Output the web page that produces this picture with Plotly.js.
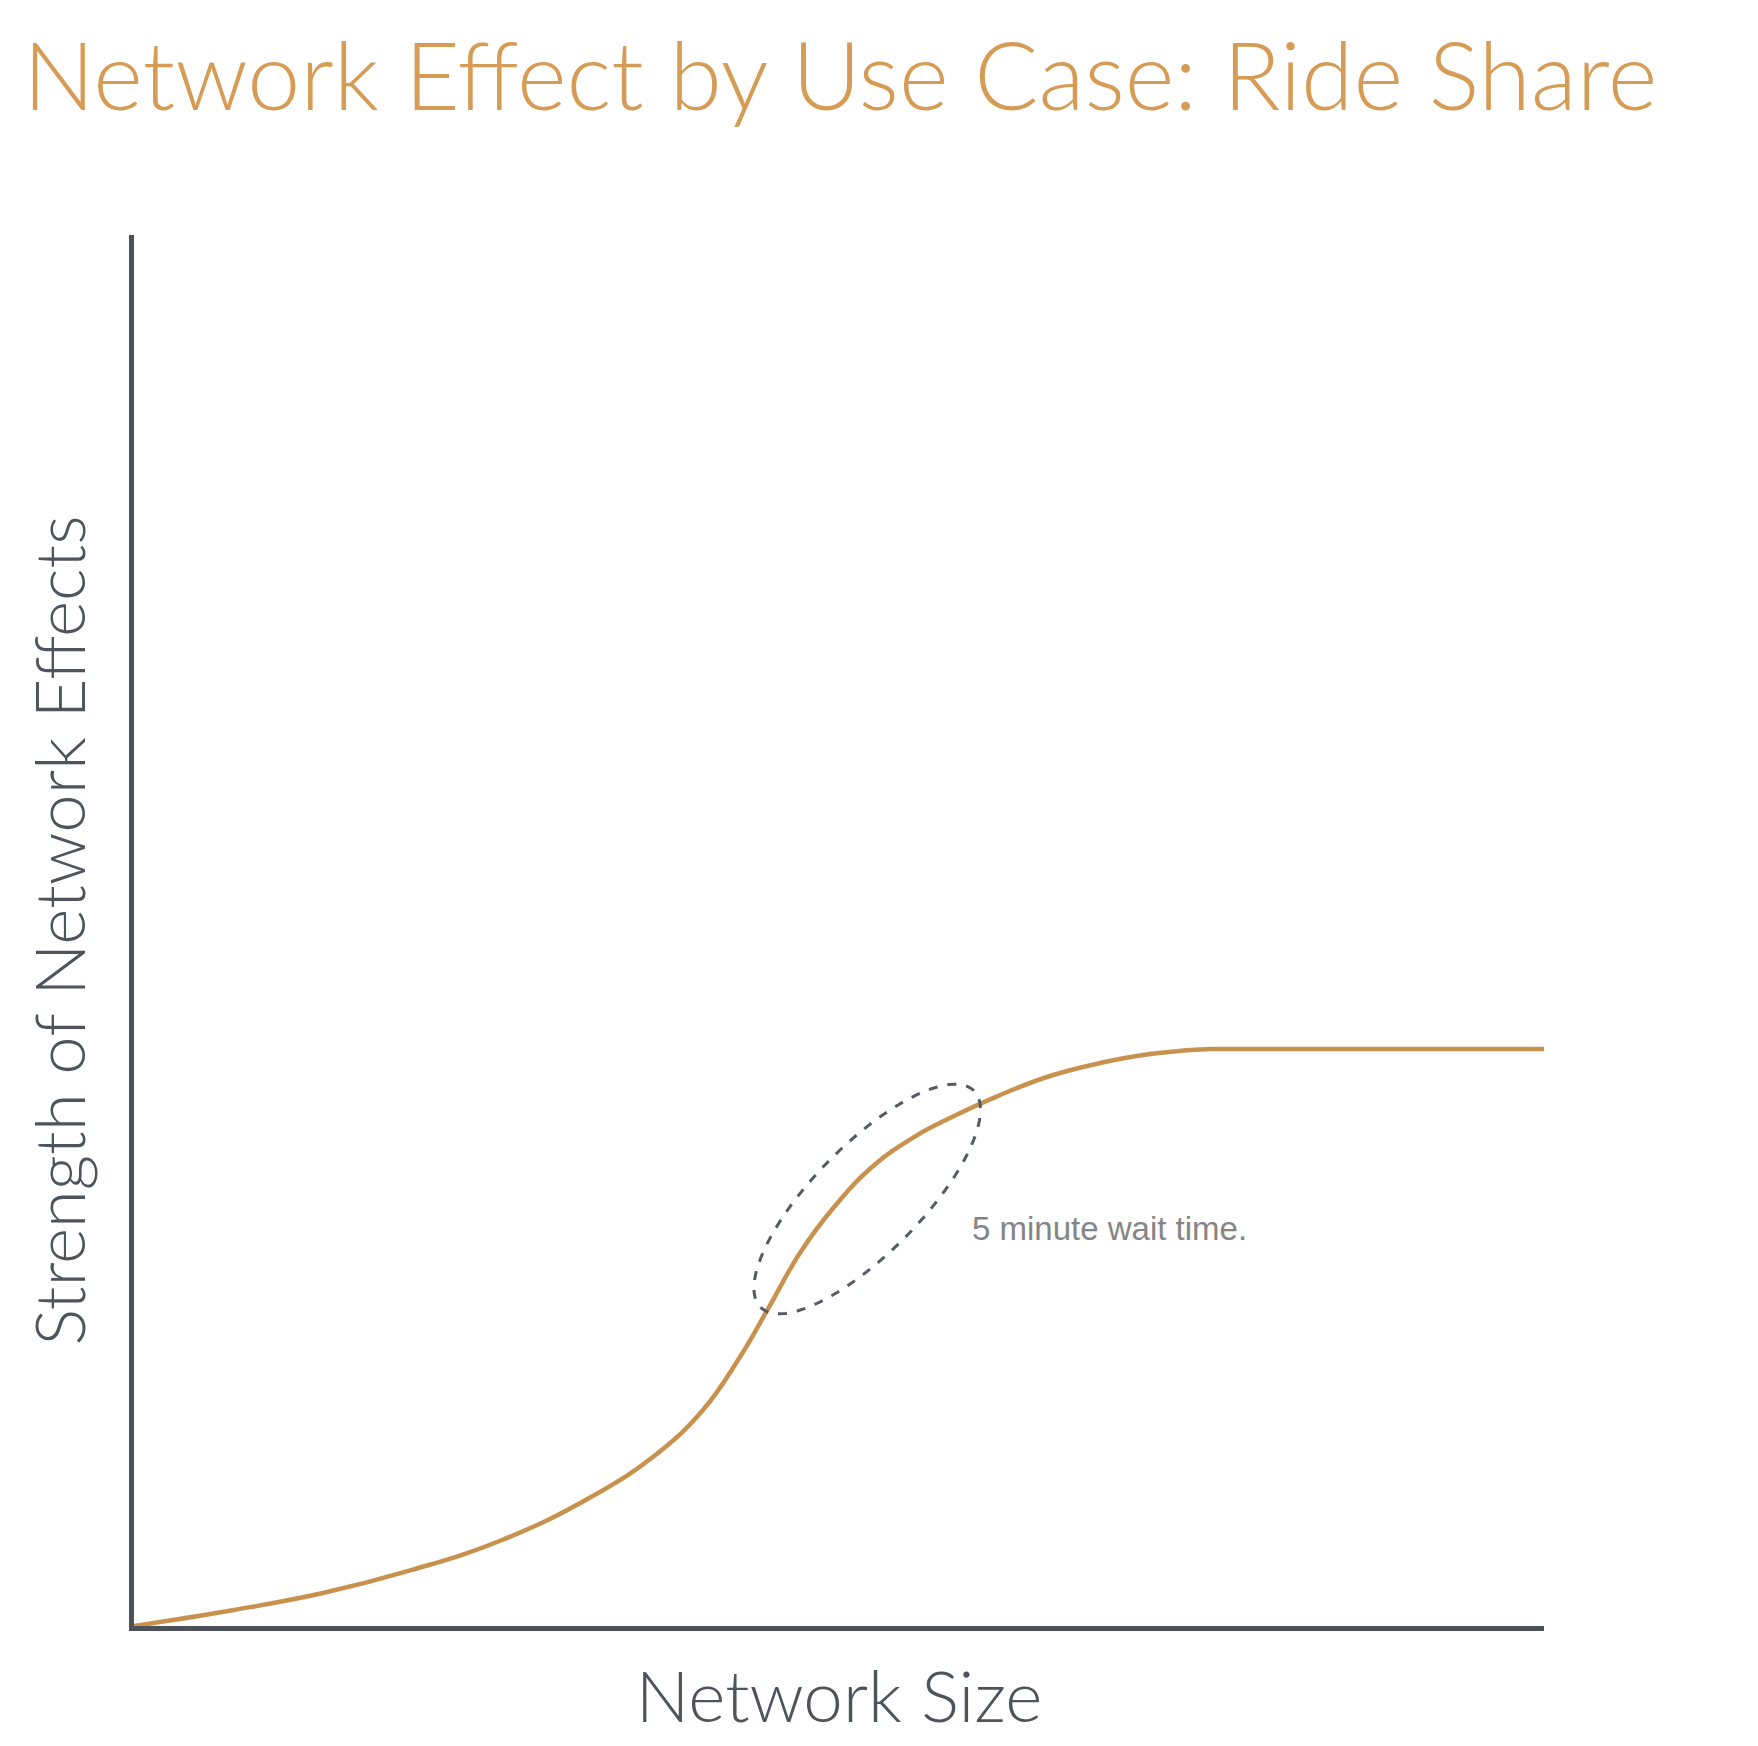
<!DOCTYPE html>
<html>
<head>
<meta charset="utf-8">
<script src="https://cdn.plot.ly/plotly-3.0.1.min.js"></script>
<style>
  html, body { margin: 0; padding: 0; background: #ffffff; }
  #chart { width: 1758px; height: 1746px; }
</style>
</head>
<body>
<div id="chart"></div>
<script>
// ---- Data (arbitrary 0-100 units, no ticks shown) ----
const networkSize = [0, 7.09, 13.40, 19.72, 26.10, 32.41, 37.16, 40.35, 42.84, 45.04, 47.23, 49.65, 52.34, 55.32, 57.87, 61.42, 64.96, 68.51, 72.06, 75.60, 77.02, 100];
const strength    = [0, 1.15, 2.37, 4.03, 6.18, 9.27, 12.44, 15.53, 19.12, 22.93, 26.82, 30.12, 33.00, 35.15, 36.52, 38.17, 39.54, 40.47, 41.12, 41.45, 41.48, 41.48];

const titleText = "Network Effect by Use Case: Ride Share";
const xTitle = "Network Size";
const yTitle = "Strength of Network Effects";
const noteText = "5 minute wait time.";
const notePoint = [59.3, 28.6];          // where the note starts (data units)
const highlightCenter = [52.0, 30.7];    // centre of the dashed ellipse (data units)

// ---- Layout geometry ----
const W = 1758, H = 1746;
const margin = {l: 134, r: 214, t: 235, b: 120};
const pxPerX = (W - margin.l - margin.r) / 100;
const pxPerY = (H - margin.t - margin.b) / 100;

// dashed ellipse (semi-axes in px, rotated) turned into a path in data units
function ellipsePath(c, a, b, deg) {
  const th = deg * Math.PI / 180;
  let d = "";
  const n = 90;
  for (let i = 0; i <= n; i++) {
    const t = 2 * Math.PI * i / n;
    const dx = a * Math.cos(t) * Math.cos(th) - b * Math.sin(t) * Math.sin(th);
    const dy = a * Math.cos(t) * Math.sin(th) + b * Math.sin(t) * Math.cos(th);
    const x = c[0] + dx / pxPerX;
    const y = c[1] + dy / pxPerY;
    d += (i === 0 ? "M" : "L") + x.toFixed(3) + "," + y.toFixed(3);
  }
  return d + "Z";
}

const axisColor = "#4d5159";
const curveColor = "#C8924E";
const fontFam = "Lato, 'Open Sans', sans-serif";

const trace = {
  x: networkSize,
  y: strength,
  type: "scatter",
  mode: "lines",
  line: {color: curveColor, width: 4.5, shape: "spline", smoothing: 1.2},
  hoverinfo: "skip",
  showlegend: false
};

const layout = {
  width: W,
  height: H,
  margin: margin,
  paper_bgcolor: "#ffffff",
  plot_bgcolor: "#ffffff",
  title: {
    text: titleText,
    font: {family: fontFam, size: 95, color: "#D69C55", weight: 300},
    xref: "container", yref: "container",
    x: 23 / W, xanchor: "left",
    y: 1 - 77 / H, yanchor: "middle"
  },
  xaxis: {
    range: [0, 100],
    showgrid: false, zeroline: false, showticklabels: false, ticks: "",
    showline: true, linecolor: axisColor, linewidth: 5,
    title: {text: xTitle, standoff: 44,
            font: {family: fontFam, size: 71, color: "#4f535b", weight: 300}},
    fixedrange: true
  },
  yaxis: {
    range: [0, 100],
    showgrid: false, zeroline: false, showticklabels: false, ticks: "",
    showline: true, linecolor: axisColor, linewidth: 5,
    title: {text: yTitle, standoff: 22,
            font: {family: fontFam, size: 69, color: "#4f535b", weight: 300}},
    fixedrange: true
  },
  shapes: [{
    type: "path",
    xref: "x", yref: "y",
    path: ellipsePath(highlightCenter, 152, 54, 45.5),
    line: {color: "#555a63", width: 3, dash: "9px,10px"},
    fillcolor: "rgba(0,0,0,0)"
  }],
  annotations: [{
    x: notePoint[0], y: notePoint[1], xref: "x", yref: "y",
    text: noteText, showarrow: false,
    xanchor: "left", yanchor: "middle",
    font: {family: "'Liberation Sans', Arial, sans-serif", size: 33, color: "#858585"}
  }]
};

Plotly.newPlot("chart", [trace], layout, {staticPlot: true, displayModeBar: false});
</script>
</body>
</html>
